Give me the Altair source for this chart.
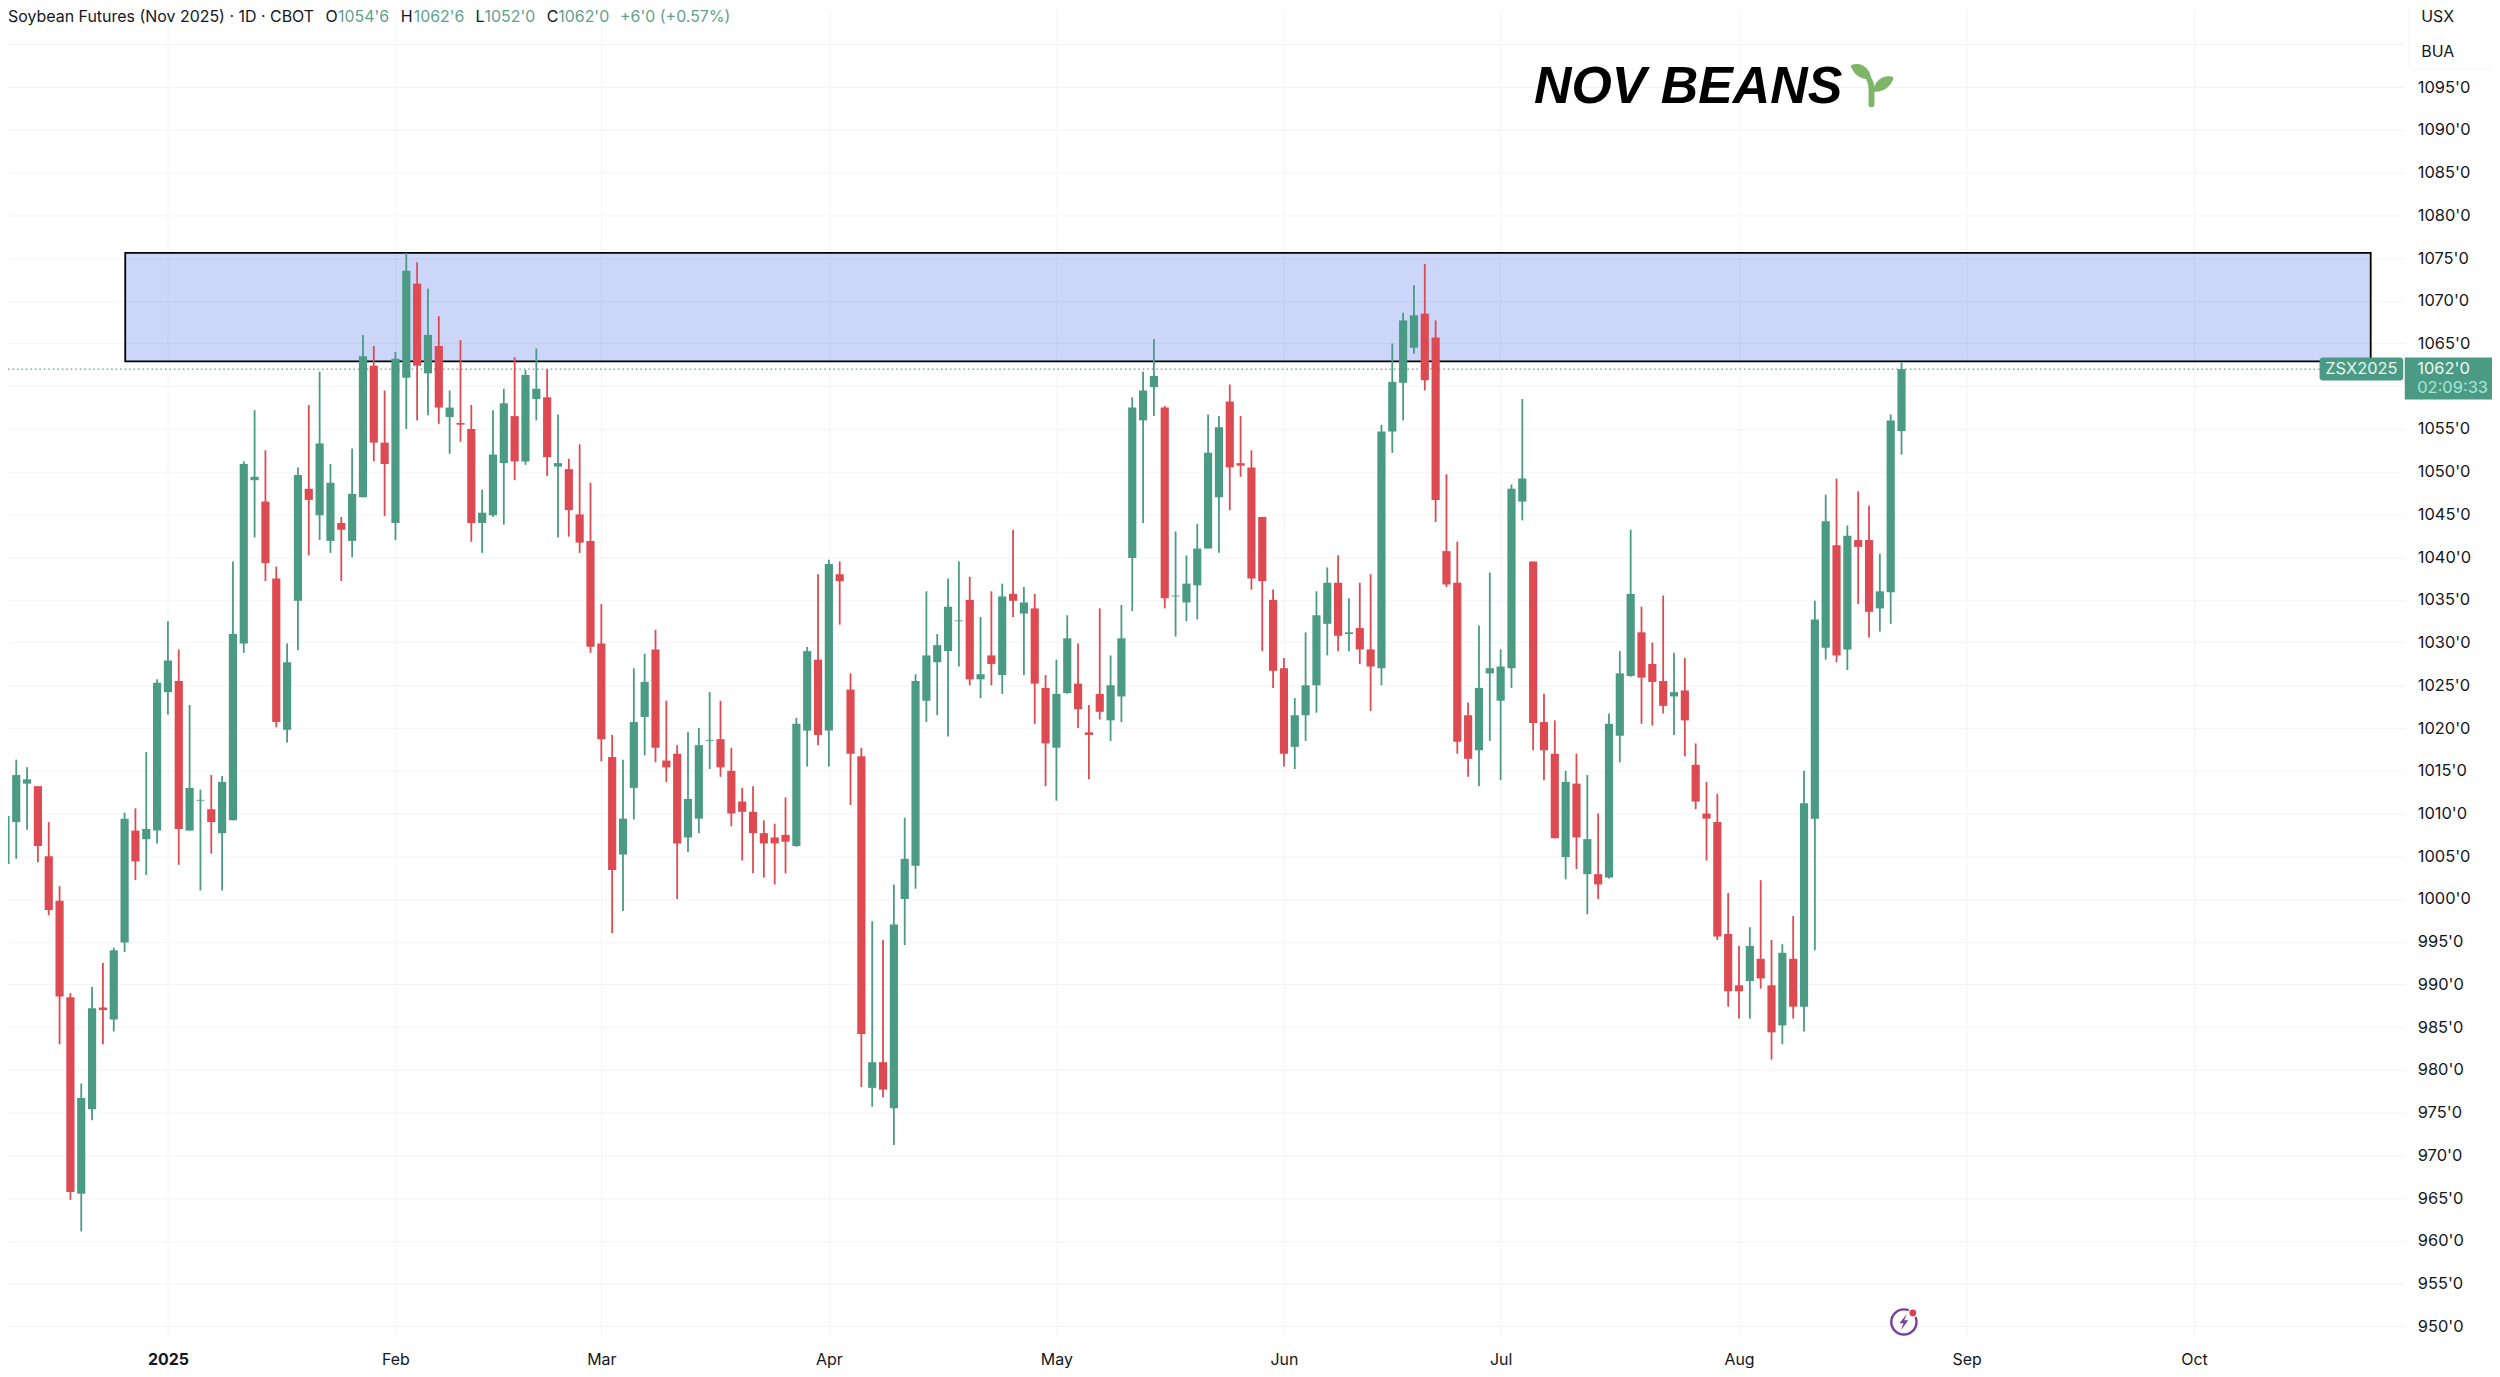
import altair as alt
import pandas as pd

direction = list(
    "GGGRRRRGGR" "GGRGGGRGGR" "GGGGRRGGRG" "GRGGRRGGRG" "RGRRGGGRGG" "RGRRRRRGGG"
    "RRRGGGRRRR" "RRRGGRGRRR" "GRGGGGGGGR" "GRGRGRRGGR" "RRGGGGGRGG" "GGGRRRRRRG"
    "GGGRGRRGGG" "GRRRRRGGGG" "GRRRGRGRGG" "GRRRGRRRRR" "RGRRGRGGGR" "GRRGGG"
)
highs = [
 1012.2,1016.3,1015.4,1013.2,1009.0,1001.5,989.0,978.4,989.7,992.5,
 994.3,1010.1,1010.6,1017.2,1025.7,1032.5,1029.2,1022.7,1012.8,1014.5,
 1014.4,1039.5,1051.2,1057.2,1052.5,1038.9,1029.9,1050.5,1057.8,1061.7,
 1050.9,1044.7,1052.7,1066.0,1064.7,1059.5,1064.0,1075.6,1074.5,1071.4,
 1068.2,1059.5,1065.4,1057.8,1047.9,1057.2,1059.7,1063.4,1061.9,1064.4,
 1062.0,1056.7,1051.5,1053.2,1048.7,1034.5,1019.2,1016.3,1027.0,1028.7,
 1031.5,1023.2,1018.0,1019.5,1020.0,1024.2,1023.2,1017.7,1013.0,1013.2,
 1009.2,1008.8,1011.9,1021.2,1029.5,1038.0,1039.7,1039.5,1026.4,1017.7,
 997.4,995.2,1001.7,1009.5,1026.3,1036.0,1031.0,1037.5,1039.5,1037.7,
 1033.0,1036.0,1036.9,1043.2,1036.5,1035.7,1026.2,1028.0,1033.2,1029.9,
 1022.7,1034.0,1028.5,1034.4,1058.7,1061.7,1065.5,1057.7,1043.0,1040.2,
 1043.9,1056.7,1056.5,1060.2,1056.5,1052.5,1044.7,1036.2,1028.2,1023.5,
 1031.2,1036.0,1038.8,1040.2,1035.2,1037.0,1038.0,1055.5,1065.0,1068.6,
 1071.8,1074.3,1067.7,1049.7,1041.8,1023.0,1032.0,1038.2,1029.2,1048.5,
 1058.5,1039.5,1024.0,1020.9,1015.0,1017.0,1014.5,1010.0,1021.7,1029.0,
 1043.2,1034.2,1030.0,1035.5,1028.8,1028.2,1018.2,1013.7,1012.3,1000.7,
 994.5,996.7,1002.2,995.2,994.7,998.0,1015.0,1034.9,1047.3,1049.2,
 1043.7,1047.7,1046.0,1040.4,1056.7,1062.75,
]
body_tops = [
 1009.7,1014.5,1014.0,1013.2,1005.0,999.8,988.5,976.7,987.2,987.3,
 994.0,1009.4,1008.0,1008.2,1025.3,1027.9,1025.5,1013.0,1011.6,1010.5,
 1013.7,1031.0,1050.9,1049.4,1046.5,1037.5,1027.7,1049.6,1048.0,1053.3,
 1048.7,1044.0,1047.4,1063.5,1062.4,1053.4,1063.2,1073.5,1072.0,1066.0,
 1064.7,1057.5,1055.7,1055.0,1045.2,1052.0,1058.0,1056.5,1061.3,1059.7,
 1058.7,1051.0,1050.3,1045.0,1041.9,1029.9,1016.6,1009.4,1020.7,1025.4,
 1029.2,1016.2,1017.0,1011.7,1018.0,1018.6,1018.7,1015.0,1011.4,1010.2,
 1007.7,1007.2,1007.5,1020.5,1029.0,1028.0,1039.2,1038.0,1024.5,1016.7,
 980.9,980.9,997.0,1004.7,1025.5,1028.5,1029.7,1034.2,1032.6,1035.0,
 1026.3,1028.5,1035.4,1035.7,1034.7,1034.0,1024.7,1024.0,1030.5,1025.2,
 1019.5,1024.0,1025.0,1030.5,1057.5,1059.5,1061.2,1057.5,1035.5,1036.9,
 1041.0,1052.2,1055.2,1058.2,1051.0,1050.5,1044.7,1035.0,1027.0,1021.5,
 1025.0,1033.2,1037.0,1037.0,1031.2,1031.7,1029.2,1054.7,1060.5,1067.7,
 1068.3,1068.5,1065.7,1040.7,1037.0,1021.5,1024.7,1027.0,1027.2,1048.0,
 1049.2,1039.5,1020.7,1017.0,1013.7,1013.5,1007.0,1002.9,1020.5,1026.4,
 1035.7,1031.2,1027.5,1025.5,1024.2,1024.4,1015.7,1010.0,1009.0,995.9,
 989.9,994.5,993.0,989.9,993.7,993.0,1011.2,1032.7,1044.2,1041.4,
 1042.5,1042.0,1042.0,1036.0,1056.0,1062.0,
]
body_bottoms = [
 1004.1,1009.0,1013.5,1006.2,998.7,988.6,965.7,965.5,975.4,987.0,
 985.9,994.9,1004.4,1007.0,1008.0,1024.2,1008.2,1008.0,1011.5,1009.0,
 1007.7,1009.2,1029.9,1049.0,1039.3,1020.7,1019.8,1034.9,1046.7,1044.9,
 1041.9,1043.2,1041.9,1047.0,1053.4,1050.9,1044.0,1061.0,1062.4,1061.5,
 1057.5,1056.4,1055.5,1044.0,1044.0,1044.9,1051.0,1051.2,1051.2,1058.5,
 1051.7,1050.6,1045.5,1041.7,1029.5,1018.7,1003.4,1005.2,1013.0,1021.3,
 1017.7,1015.4,1006.5,1007.2,1009.4,1018.5,1015.4,1010.0,1010.2,1007.7,
 1006.5,1006.5,1006.7,1006.2,1019.7,1019.2,1019.7,1037.2,1017.0,984.2,
 977.9,977.7,975.5,1000.0,1003.9,1023.2,1027.7,1029.0,1032.5,1025.7,
 1025.7,1027.5,1026.2,1034.9,1033.4,1025.2,1018.2,1017.7,1024.1,1022.2,
 1019.2,1021.9,1020.9,1023.7,1039.9,1056.0,1059.9,1035.2,1035.4,1034.7,
 1036.7,1041.0,1047.0,1050.5,1050.7,1037.5,1037.2,1026.7,1017.0,1017.8,
 1021.5,1025.0,1032.2,1030.8,1031.0,1029.2,1027.2,1027.0,1054.7,1060.4,
 1064.5,1060.7,1046.7,1036.8,1018.4,1016.4,1017.4,1026.4,1023.2,1027.0,
 1046.5,1020.6,1017.4,1007.1,1004.9,1007.2,1002.9,1001.7,1002.5,1019.1,
 1026.1,1025.9,1025.4,1022.6,1023.7,1020.9,1011.4,1009.4,995.6,989.2,
 989.2,990.4,990.7,984.4,985.2,987.4,987.4,1009.4,1029.4,1028.5,
 1029.2,1041.2,1033.6,1034.0,1035.9,1054.75,
]
lows = [
 1003.7,1004.7,1008.1,1004.3,998.1,983.0,964.8,961.1,974.1,983.0,
 984.5,993.8,1002.2,1002.8,1006.5,1021.6,1004.0,1008.0,1001.0,1005.3,
 1001.0,1009.2,1028.8,1042.3,1037.2,1020.1,1018.3,1029.1,1040.2,1042.0,
 1040.5,1037.2,1040.0,1047.0,1051.2,1044.8,1042.0,1055.0,1056.0,1056.6,
 1055.6,1052.1,1053.5,1041.8,1040.5,1044.7,1043.8,1049.0,1050.8,1056.0,
 1049.5,1042.3,1042.4,1040.5,1028.8,1016.1,996.0,998.6,1009.3,1016.8,
 1016.0,1013.7,1000.0,1005.5,1007.7,1015.2,1014.3,1008.5,1004.5,1003.0,
 1002.5,1001.7,1003.0,1006.1,1015.5,1018.0,1015.5,1032.1,1011.0,978.0,
 975.7,976.8,971.2,994.6,1001.2,1020.7,1021.5,1019.0,1027.2,1025.0,
 1023.5,1025.0,1024.0,1033.0,1026.2,1020.5,1013.2,1011.5,1024.0,1020.0,
 1014.0,1021.0,1018.5,1020.7,1033.7,1044.0,1056.5,1034.0,1030.7,1032.5,
 1032.7,1041.0,1040.5,1045.5,1049.4,1036.2,1029.0,1024.7,1015.5,1015.2,
 1018.5,1021.8,1028.5,1029.0,1029.0,1027.5,1022.0,1025.0,1052.2,1056.0,
 1063.8,1059.5,1044.1,1036.5,1017.0,1014.3,1013.2,1018.5,1013.9,1024.7,
 1044.3,1017.4,1013.9,1007.1,1002.3,1003.5,998.2,1000.0,1002.4,1016.0,
 1026.0,1020.5,1020.3,1021.7,1019.2,1016.7,1010.5,1004.5,995.2,987.4,
 986.0,986.0,989.5,981.2,983.0,986.0,984.5,994.0,1028.0,1027.7,
 1026.8,1034.5,1030.6,1031.3,1032.2,1052.0,
]

tick_bars = [15, 36, 55, 76, 97, 118, 138, 160, 181, 202]
tick_labels = ["2025", "Feb", "Mar", "Apr", "May", "Jun", "Jul", "Aug", "Sep", "Oct"]
price_ticks = list(range(950, 1105, 5))
hidden_price_labels = [1060, 1100]

zone_x = [11.06, 218.3]
zone_y = [1062.9, 1075.6]
last_price = 1062.0

FONT = "Inter"
INK = "#131722"
GREEN = "#4a9a84"
RED = "#dd4a52"
GRID = "#f3f4f6"

bars = pd.DataFrame({
    "i": range(len(highs)), "high": highs, "top": body_tops,
    "bottom": body_bottoms, "low": lows, "dir": direction,
})

label_map = ",".join(f"'{b}':'{t}'" for b, t in zip(tick_bars, tick_labels))
hide_test = " || ".join(f"datum.value == {v}" for v in hidden_price_labels)
x_scale = alt.Scale(domain=[0.24, 221.4], nice=False, zero=False, padding=0)
y_scale = alt.Scale(domain=[948.64, 1104.0], nice=False, zero=False, padding=0)
x_axis = alt.Axis(
    values=tick_bars, labelExpr="{" + label_map + "}[datum.value]", grid=True, gridColor=GRID,
    ticks=False, domain=False, labelFont=FONT, labelFontSize=16, labelColor=INK, labelPadding=14,
    labelFontWeight={"condition": {"test": "datum.value == 15", "value": "bold"}, "value": "normal"},
    labelAngle=0, title=None, labelOverlap=False, labelFlush=False,
)
y_axis = alt.Axis(
    orient="right", values=price_ticks, labelExpr=f"({hide_test}) ? '' : datum.value + \"'0\"",
    grid=True, gridColor=GRID,
    ticks=False, domain=False, labelFont=FONT, labelFontSize=16.5, labelColor=INK, labelPadding=13,
    labelAlign="left", title=None, labelOverlap=False, labelFlush=False,
)


def X(f):
    return alt.X(f"{f}:Q", scale=x_scale, axis=x_axis, title=None)


def Y(f):
    return alt.Y(f"{f}:Q", scale=y_scale, axis=y_axis, title=None)


color = alt.Color("dir:N", scale=alt.Scale(domain=["G", "R"], range=[GREEN, RED]), legend=None)

zone_df = pd.DataFrame({"x0": [zone_x[0]], "x1": [zone_x[1]], "y0": [zone_y[0]], "y1": [zone_y[1]]})
zone = alt.Chart(zone_df).mark_rect(
    fill="#2455e8", fillOpacity=0.24, stroke="#000000", strokeWidth=1.8
).encode(x=X("x0"), x2="x1:Q", y=Y("y0"), y2="y1:Q")

last_df = pd.DataFrame({"p": [last_price], "x0": [0.24], "x1": [213.6]})
last_line = alt.Chart(last_df).mark_rule(
    color="#3d7f6d", strokeWidth=1, strokeDash=[1.5, 3], clip=True
).encode(x=X("x0"), x2="x1:Q", y=Y("p"))

wicks = alt.Chart(bars).mark_rule(strokeWidth=1.8, clip=True).encode(
    x=X("i"), y=Y("low"), y2="high:Q", color=color
)
bodies = alt.Chart(bars).mark_bar(size=8.2, orient="vertical", clip=True).encode(
    x=X("i"), y=Y("bottom"), y2="top:Q", color=color
)


def text(t, xp, yp, size=16, col=INK, font=FONT, **kw):
    return alt.Chart(pd.DataFrame({"t": [t]})).mark_text(
        font=font, fontSize=size, color=col, align=kw.pop("align", "left"), baseline="middle", **kw
    ).encode(x=alt.value(xp - 8), y=alt.value(yp - 8), text="t:N")


def box(x0, x1, y0, y1, **kw):
    return alt.Chart(pd.DataFrame({"t": [0]})).mark_rect(**kw).encode(
        x=alt.value(x0 - 8), x2=alt.value(x1 - 8), y=alt.value(y0 - 8), y2=alt.value(y1 - 8)
    )


HDR_G = "#5f9f8e"
header = [
    text("Soybean Futures (Nov 2025) · 1D · CBOT", 8, 14.5, size=16),
    text("O", 326.5, 14.5), text("1054'6", 339, 14.5, col=HDR_G),
    text("H", 402, 14.5), text("1062'6", 415, 14.5, col=HDR_G),
    text("L", 477, 14.5), text("1052'0", 486, 14.5, col=HDR_G),
    text("C", 548.5, 14.5), text("1062'0", 560, 14.5, col=HDR_G),
    text("+6'0 (+0.57%)", 622, 14.5, col=HDR_G),
]

unit_panel = box(2417, 2510, -20, 67, fill="#ffffff", stroke="#f4f4f4", cornerRadius=6)
units = [text("USX", 2429, 15, size=16), text("BUA", 2429, 50, size=16)]

title = text("NOV BEANS", 1539, 85, size=52, col="#000000", font="Liberation Sans",
             fontWeight="bold", fontStyle="italic")

SPROUT = (
    "M-1,-1 C-0.55,-1.2 -0.1,-0.95 0,-0.35 C-0.5,-0.3 -0.85,-0.55 -1,-1 Z "
    "M-0.2,-0.6 C0.1,-0.4 0.14,-0.1 0.14,0.2 L0.14,0.88 Q0.14,1 0,1 Q-0.14,1 -0.14,0.88 "
    "L-0.14,0.1 C-0.14,-0.1 -0.2,-0.3 -0.36,-0.48 Z "
    "M0.1,0.25 C0.1,-0.3 0.6,-0.6 1.05,-0.45 C1.0,-0.05 0.6,0.3 0.1,0.25 Z"
)
BOLT = "M0.35,-1 L-0.55,0.15 L-0.05,0.15 L-0.35,1 L0.55,-0.2 L0.05,-0.2 Z"


def icon(shape, xp, yp, size, **kw):
    return alt.Chart(pd.DataFrame({"t": [0]})).mark_point(shape=shape, size=size, **kw).encode(
        x=alt.value(xp - 8), y=alt.value(yp - 8)
    )


sprout = icon(SPROUT, 1877.5, 84.5, 42 * 42, filled=True, fill="#7fb568", opacity=1, strokeWidth=0)
bolt_ring = icon("circle", 1910, 1324, 640, filled=False, stroke="#7d3f9d", strokeWidth=2.4, opacity=1)
bolt = icon(BOLT, 1910, 1324, 260, filled=True, fill="#7d3f9d", opacity=1, strokeWidth=0)
bolt_dot = icon("circle", 1919, 1315, 70, filled=True, fill="#d9434e", stroke="#ffffff", strokeWidth=1.5, opacity=1)

tag_left = box(2327, 2411, 356.5, 379.5, fill=GREEN, cornerRadius=3)
tag_right = box(2412.5, 2500, 356.5, 398.5, fill=GREEN)
tag_texts = [
    text("ZSX2025", 2369, 368, size=16.5, col="#e6f5ef", align="center"),
    text("1062'0", 2425, 368, size=16.5, col="#eefaf5"),
    text("02:09:33", 2425, 387, size=16.5, col="#a9e6d4"),
]

chart = alt.layer(
    zone, last_line, wicks, bodies, *header, unit_panel, *units, title, sprout,
    bolt_ring, bolt, bolt_dot, tag_left, tag_right, *tag_texts,
).properties(
    width=2404, height=1332,
    padding={"left": 0, "top": 0, "right": 88, "bottom": 28},
    autosize=alt.AutoSizeParams(type="none"),
    background="#ffffff",
).configure_view(stroke=None)

chart.save("out.html", embed_options={"renderer": "svg", "actions": False})
